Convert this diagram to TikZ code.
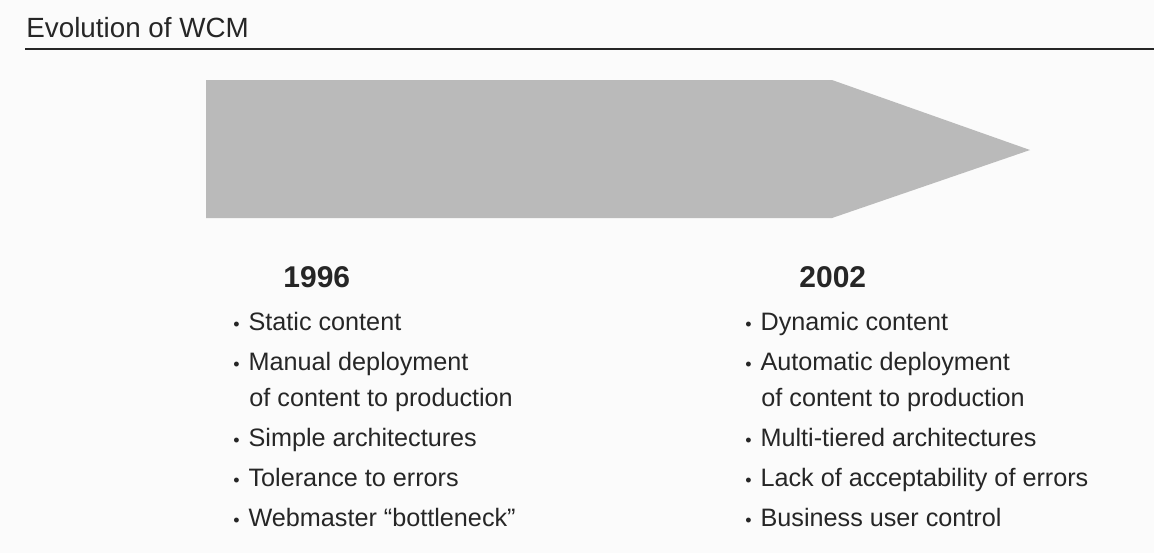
\documentclass[tikz,border=0pt]{standalone}
\usepackage{fontspec}
\setmainfont{Liberation Sans}
\definecolor{txt}{RGB}{38,38,38}
\definecolor{arrowgray}{RGB}{186,186,186}
\definecolor{bg}{RGB}{251,251,251}
\newcommand{\bul}{\makebox[7.6pt][l]{\small•}}
\begin{document}
\begin{tikzpicture}[x=0.5pt,y=-0.5pt,
  item/.style={anchor=base west,inner sep=0pt,text=txt,font=\fontsize{12.6}{15}\selectfont},
  year/.style={anchor=base west,inner sep=0pt,text=txt,font=\fontsize{15}{18}\selectfont\bfseries},
  titletext/.style={anchor=base west,inner sep=0pt,text=txt,font=\fontsize{13.9}{16}\selectfont}]
\fill[bg] (0,0) rectangle (1154,553);
\useasboundingbox (0,0) rectangle (1154,553);
% title
\node[titletext] (title) at (26,37) {Evolution of WCM};
\coordinate (rl) at (25,49);
\coordinate (rr) at (1154,49);
\draw[txt,line width=0.8pt] (rl) -- (rr);
% arrow
\fill[arrowgray] (206,80) -- (832,80) -- (1030,150) -- (832,218) -- (206,218) -- cycle;
% left column
\node[year] (y1) at (283,287) {1996};
\node[item] (a1) at (233,330) {\bul Static content};
\node[item] (a2) at (233,370) {\bul Manual deployment};
\node[item] (a2b) at (249,406) {of content to production};
\node[item] (a3) at (233,446) {\bul Simple architectures};
\node[item] (a4) at (233,486) {\bul Tolerance to errors};
\node[item] (a5) at (233,526) {\bul Webmaster “bottleneck”};
% right column
\node[year] (y2) at (799,287) {2002};
\node[item] (b1) at (745,330) {\bul Dynamic content};
\node[item] (b2) at (745,370) {\bul Automatic deployment};
\node[item] (b2b) at (761,406) {of content to production};
\node[item] (b3) at (745,446) {\bul Multi-tiered architectures};
\node[item] (b4) at (745,486) {\bul Lack of acceptability of errors};
\node[item] (b5) at (745,526) {\bul Business user control};
\end{tikzpicture}
\end{document}
